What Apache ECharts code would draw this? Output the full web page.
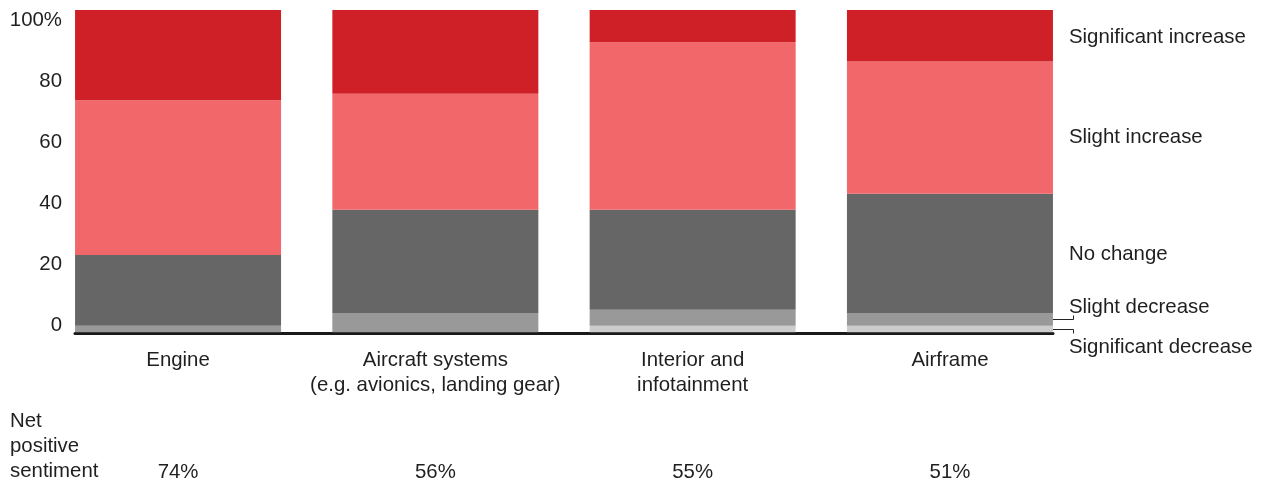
<!DOCTYPE html>
<html>
<head>
<meta charset="utf-8">
<title>Expected change in spending by aircraft segment</title>
<script src="https://cdn.jsdelivr.net/npm/echarts@6/dist/echarts.min.js"></script>
<style>
  html, body { margin: 0; padding: 0; background: #ffffff; }
  #chart { width: 1265px; height: 481px; }
</style>
</head>
<body>
<div id="chart"></div>
<script>
// Aircraft segments (x-axis categories)
const categories = ['Engine', 'Aircraft systems\n(e.g. avionics, landing gear)', 'Interior and\ninfotainment', 'Airframe'];

// Share of respondents per answer, % (stacked bottom to top)
const significantDecrease = [0, 0, 2, 2];
const slightDecrease      = [2, 6, 5, 4];
const noChange            = [22, 32, 31, 37];
const slightIncrease      = [48, 36, 52, 41];
const significantIncrease = [28, 26, 10, 16];

// Net positive sentiment per segment, %
const netPositive = [74, 56, 55, 51];

// Y-axis tick labels
const yTicks = [0, 20, 40, 60, 80, 100];

const FONT = 'Liberation Sans, Arial, sans-serif';
const FONT_SIZE = 20.4;
const TEXT = '#1f1f1f';
const BAR_WIDTH = 206;
const LEADER_RUN = 20;

// dy: vertical nudge of the series name shown beside the last bar
const seriesDefs = [
  { name: 'Significant decrease', data: significantDecrease, color: '#cccccc', dy: 18 },
  { name: 'Slight decrease',      data: slightDecrease,      color: '#999999', dy: -12 },
  { name: 'No change',            data: noChange,            color: '#666666', dy: 1 },
  { name: 'Slight increase',      data: slightIncrease,      color: '#f1676a', dy: 10 },
  { name: 'Significant increase', data: significantIncrease, color: '#cf2027', dy: 2 }
];

const lastIdx = categories.length - 1;

const series = seriesDefs.map(function (d) {
  return {
    name: d.name,
    type: 'bar',
    stack: 'total',
    xAxisIndex: 0,
    yAxisIndex: 0,
    barWidth: BAR_WIDTH,
    itemStyle: { color: d.color },
    data: d.data.map(function (v, i) {
      if (i !== lastIdx) return v;
      return {
        value: v,
        label: {
          show: true,
          position: 'right',
          distance: 16,
          formatter: d.name,
          fontFamily: FONT,
          fontSize: FONT_SIZE,
          color: TEXT
        }
      };
    }),
    labelLayout: { dy: d.dy },
    emphasis: { disabled: true },
    animation: false
  };
});

// Leader lines for the two thin "decrease" segments of the last bar:
// [category index, segment midpoint, direction of the short vertical tick]
const leaderData = [
  [lastIdx, significantDecrease[lastIdx] / 2, 1],
  [lastIdx, significantDecrease[lastIdx] + slightDecrease[lastIdx] / 2, -1]
];

series.push({
  type: 'custom',
  name: 'leaders',
  xAxisIndex: 0,
  yAxisIndex: 0,
  z: 5,
  silent: true,
  encode: { x: 0, y: 1 },
  data: leaderData,
  renderItem: function (params, api) {
    const p = api.coord([api.value(0), api.value(1)]);
    const dir = api.value(2);
    const y = Math.round(p[1]) + 0.5;
    const x0 = p[0] + BAR_WIDTH / 2;
    const x1 = Math.round(x0 + LEADER_RUN) + 0.5;
    return {
      type: 'polyline',
      shape: { points: [[x0, y], [x1, y], [x1, y + dir * 4]] },
      style: { stroke: '#222222', lineWidth: 1, fill: null }
    };
  },
  animation: false
});

const chart = echarts.init(document.getElementById('chart'), null, { renderer: 'canvas' });

chart.setOption({
  animation: false,
  backgroundColor: '#ffffff',
  title: {
    text: 'Net\npositive\nsentiment',
    left: 10,
    top: 409,
    padding: 0,
    textStyle: {
      fontFamily: FONT,
      fontSize: FONT_SIZE,
      fontWeight: 'normal',
      color: TEXT,
      lineHeight: 25
    }
  },
  grid: [
    // bars
    { left: 49.4, right: 186.4, top: 10, bottom: 148.7, outerBoundsMode: 'none', containLabel: false },
    // value labels and baseline
    { left: 75, right: 212, top: 20, bottom: 156, outerBoundsMode: 'none', containLabel: false }
  ],
  xAxis: [
    {
      type: 'category',
      gridIndex: 0,
      data: categories,
      axisLine: { show: false },
      axisTick: { show: false },
      axisLabel: {
        margin: 16,
        fontFamily: FONT,
        fontSize: FONT_SIZE,
        color: TEXT,
        lineHeight: 25,
        interval: 0
      }
    },
    {
      type: 'category',
      gridIndex: 0,
      position: 'bottom',
      offset: 114,
      data: netPositive,
      axisLine: { show: false },
      axisTick: { show: false },
      axisLabel: {
        margin: 14,
        fontFamily: FONT,
        fontSize: FONT_SIZE,
        color: TEXT,
        lineHeight: 25,
        interval: 0,
        formatter: function (v) { return v + '%'; }
      }
    },
    {
      type: 'value',
      gridIndex: 1,
      min: 0,
      max: 1,
      position: 'bottom',
      offset: 8.5,
      axisLine: { show: true, onZero: false, lineStyle: { color: '#1a1a1a', width: 3 } },
      axisTick: { show: false },
      axisLabel: { show: false },
      splitLine: { show: false }
    }
  ],
  yAxis: [
    {
      type: 'value',
      gridIndex: 0,
      min: 0,
      max: 100,
      show: false
    },
    {
      type: 'value',
      gridIndex: 1,
      min: yTicks[0],
      max: yTicks[yTicks.length - 1],
      interval: yTicks[1] - yTicks[0],
      axisLine: { show: false },
      axisTick: { show: false },
      splitLine: { show: false },
      axisLabel: {
        margin: 13,
        fontFamily: FONT,
        fontSize: FONT_SIZE,
        color: TEXT,
        formatter: function (v) { return v === 100 ? '100%' : String(v); }
      }
    }
  ],
  series: series
});
</script>
</body>
</html>
